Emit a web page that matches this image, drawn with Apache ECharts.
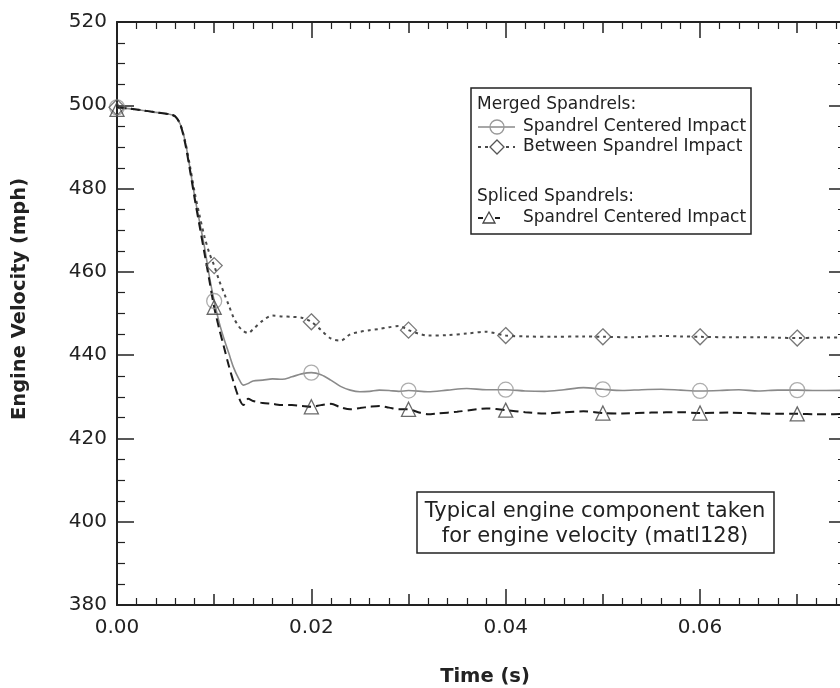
<!DOCTYPE html>
<html><head><meta charset="utf-8">
<script src="https://cdn.jsdelivr.net/npm/echarts@6/dist/echarts.min.js"></script>
<style>html,body{margin:0;padding:0;background:#fff}#c{width:840px;height:688px}</style>
</head><body><div id="c"></div>
<script>
// ---- data (time in s, engine velocity in mph) ----
var mergedCentered = [[0,499.5],[0.002,499],[0.004,498.3],[0.0055,497.8],[0.006,497.3],[0.0065,495.5],[0.007,491.5],[0.0075,485],[0.008,478],[0.0085,472],[0.009,466],[0.0095,459],[0.010,453],[0.0105,448],[0.011,444],[0.0115,440.5],[0.012,437],[0.0125,434.5],[0.013,432.8],[0.0135,433.2],[0.014,433.8],[0.015,434],[0.016,434.3],[0.017,434.2],[0.018,434.8],[0.019,435.5],[0.020,435.8],[0.021,435.3],[0.022,434],[0.023,432.5],[0.024,431.6],[0.025,431.2],[0.026,431.3],[0.027,431.6],[0.028,431.5],[0.029,431.3],[0.030,431.5],[0.032,431.2],[0.034,431.6],[0.036,432],[0.038,431.7],[0.040,431.7],[0.042,431.4],[0.044,431.3],[0.046,431.7],[0.048,432.2],[0.050,431.8],[0.052,431.5],[0.054,431.7],[0.056,431.8],[0.058,431.6],[0.060,431.4],[0.062,431.5],[0.064,431.7],[0.066,431.4],[0.068,431.6],[0.070,431.6],[0.072,431.5],[0.076,431.6]];
var mergedCenteredMarks = [[0,499.5],[0.01,453],[0.02,435.8],[0.03,431.5],[0.04,431.7],[0.05,431.8],[0.06,431.4],[0.07,431.6]];

var mergedBetween = [[0,499.5],[0.002,499],[0.004,498.3],[0.0055,497.8],[0.006,497.3],[0.0065,495.5],[0.007,491.5],[0.0075,485.5],[0.008,479],[0.0085,473.5],[0.009,468.5],[0.0095,464.5],[0.010,461.5],[0.0105,458],[0.011,455],[0.0115,452],[0.012,449],[0.0125,447],[0.013,445.8],[0.0135,445.3],[0.014,446.2],[0.015,448.3],[0.016,449.5],[0.017,449.3],[0.018,449.2],[0.019,449],[0.020,448],[0.021,446],[0.022,444],[0.023,443.5],[0.024,445],[0.025,445.6],[0.026,446],[0.027,446.3],[0.028,446.7],[0.029,447],[0.030,446],[0.031,445.2],[0.032,444.7],[0.034,444.8],[0.036,445.2],[0.038,445.6],[0.040,444.7],[0.042,444.5],[0.045,444.4],[0.048,444.5],[0.050,444.4],[0.053,444.3],[0.056,444.6],[0.058,444.5],[0.060,444.4],[0.063,444.3],[0.066,444.3],[0.068,444.2],[0.070,444.1],[0.072,444.2],[0.076,444.3]];
var mergedBetweenMarks = [[0,499.5],[0.01,461.5],[0.02,448],[0.03,446],[0.04,444.7],[0.05,444.4],[0.06,444.4],[0.07,444.1]];

var splicedCentered = [[0,499.5],[0.002,499],[0.004,498.3],[0.0055,497.8],[0.006,497.3],[0.0065,495.5],[0.007,491],[0.0075,484.5],[0.008,477.5],[0.0085,471],[0.009,464.5],[0.0095,458],[0.010,451.5],[0.0105,446.5],[0.011,442],[0.0115,437.5],[0.012,433.5],[0.0125,430],[0.013,428],[0.0135,429.5],[0.014,429],[0.015,428.5],[0.016,428.3],[0.017,428],[0.018,428],[0.019,427.8],[0.020,427.6],[0.021,428],[0.022,428.3],[0.023,427.5],[0.024,427],[0.025,427.3],[0.026,427.6],[0.027,427.8],[0.028,427.4],[0.029,427],[0.030,427],[0.031,426.3],[0.032,425.8],[0.033,426],[0.035,426.4],[0.037,427],[0.038,427.2],[0.040,426.8],[0.042,426.3],[0.044,426],[0.046,426.3],[0.048,426.5],[0.050,426.1],[0.052,426],[0.055,426.2],[0.058,426.3],[0.060,426.1],[0.063,426.2],[0.066,426],[0.068,425.9],[0.070,425.9],[0.072,425.8],[0.076,425.9]];
var splicedCenteredMarks = [[0,499],[0.01,451.5],[0.02,427.6],[0.03,427],[0.04,426.8],[0.05,426.1],[0.06,426.1],[0.07,425.9]];

var xLabelTicks = [0, 0.02, 0.04, 0.06];
var yTicks = [380, 400, 420, 440, 460, 480, 500, 520];

var FONT = 'DejaVu Sans';
var AXC = '#222';

var chart = echarts.init(document.getElementById('c'), null, {renderer: 'canvas'});

function xAx(pos, interval, tickLen, minor, labels, line) {
  return {
    type: 'value', gridIndex: 0, position: pos, min: 0, max: 0.08, interval: interval,
    axisLine: {show: line, onZero: false, lineStyle: {color: AXC, width: 2}},
    axisTick: {show: true, inside: true, length: tickLen, lineStyle: {color: AXC, width: 1.5}},
    minorTick: {show: minor, splitNumber: 5, length: 7, lineStyle: {color: AXC, width: 1.2}},
    axisLabel: {show: labels, fontFamily: FONT, fontSize: 20, color: '#222', margin: 13,
      formatter: function (v) { return xLabelTicks.indexOf(Math.round(v * 1000) / 1000) >= 0 ? v.toFixed(2) : ''; }},
    splitLine: {show: false}, minorSplitLine: {show: false}
  };
}
function yAx(grid, pos, labels) {
  return {
    type: 'value', gridIndex: grid, position: pos, min: yTicks[0], max: yTicks[yTicks.length - 1], interval: 20,
    axisLine: {show: true, onZero: false, lineStyle: {color: AXC, width: 2}},
    axisTick: {show: true, inside: true, length: 17, lineStyle: {color: AXC, width: 1.5}},
    minorTick: {show: true, splitNumber: 4, length: 8, lineStyle: {color: AXC, width: 1.2}},
    axisLabel: {show: labels, fontFamily: FONT, fontSize: 20, color: '#222', margin: 10},
    splitLine: {show: false}
  };
}

var lineStyles = [
  {color: '#8a8a8a', width: 1.6, type: 'solid'},
  {color: '#4a4a4a', width: 2, type: [3, 4]},
  {color: '#1a1a1a', width: 2, type: [9, 5]}
];

chart.setOption({
  backgroundColor: '#ffffff',
  animation: false,
  grid: [
    {left: 117, top: 22, width: 777.4, height: 583, containLabel: false, outerBoundsMode: 'none'},
    {left: 117, top: 22, width: 729, height: 583, containLabel: false, outerBoundsMode: 'none'}
  ],
  xAxis: [
    xAx('bottom', 0.02, 16, false, true, true),
    xAx('bottom', 0.01, 11, true, false, false),
    xAx('top', 0.02, 16, false, false, true),
    xAx('top', 0.01, 11, true, false, false),
    {type: 'value', gridIndex: 1, min: 0, max: 0.075, show: false}
  ],
  yAxis: [
    yAx(0, 'left', true),
    yAx(1, 'right', false)
  ],
  series: [
    {type: 'line', name: 'Merged Spandrel Centered Impact', data: mergedCentered, showSymbol: false, smooth: 0.3, lineStyle: lineStyles[0], z: 3},
    {type: 'line', name: 'Between Spandrel Impact', data: mergedBetween, showSymbol: false, smooth: 0.3, lineStyle: lineStyles[1], z: 3},
    {type: 'line', name: 'Spliced Spandrel Centered Impact', data: splicedCentered, showSymbol: false, smooth: 0.3, lineStyle: lineStyles[2], z: 3},
    {type: 'scatter', data: mergedCenteredMarks, symbol: 'circle', symbolSize: 15,
      itemStyle: {color: 'rgba(0,0,0,0)', borderColor: '#999', borderWidth: 1.3}, z: 4},
    {type: 'scatter', data: mergedBetweenMarks, symbol: 'diamond', symbolSize: [16, 16],
      itemStyle: {color: 'rgba(0,0,0,0)', borderColor: '#555', borderWidth: 1.3}, z: 4},
    {type: 'scatter', data: splicedCenteredMarks, symbol: 'triangle', symbolSize: [14, 14],
      itemStyle: {color: 'rgba(0,0,0,0)', borderColor: '#444', borderWidth: 1.3}, z: 4}
  ],
  graphic: [
    // axis titles
    {type: 'text', x: 20, y: 299, rotation: Math.PI / 2, style: {text: 'Engine Velocity (mph)', fontFamily: FONT, fontWeight: 'bold', fontSize: 19.5, fill: '#222', align: 'center', verticalAlign: 'middle'}},
    {type: 'text', x: 485, y: 677, style: {text: 'Time (s)', fontFamily: FONT, fontWeight: 'bold', fontSize: 19.5, fill: '#222', align: 'center', verticalAlign: 'middle'}},
    // legend box
    {type: 'rect', shape: {x: 471, y: 88, width: 280, height: 146}, style: {fill: '#fff', stroke: '#222', lineWidth: 1.5}, z: 10},
    {type: 'text', x: 477, y: 105, style: {text: 'Merged Spandrels:', fontFamily: FONT, fontSize: 17, fill: '#222', verticalAlign: 'middle'}, z: 11},
    {type: 'line', shape: {x1: 478, y1: 127, x2: 515, y2: 127}, style: {stroke: '#8a8a8a', lineWidth: 1.6}, z: 11},
    {type: 'circle', shape: {cx: 497, cy: 127, r: 7}, style: {fill: 'rgba(0,0,0,0)', stroke: '#999', lineWidth: 1.3}, z: 11},
    {type: 'text', x: 523, y: 127, style: {text: 'Spandrel Centered Impact', fontFamily: FONT, fontSize: 17, fill: '#222', verticalAlign: 'middle'}, z: 11},
    {type: 'line', shape: {x1: 478, y1: 147, x2: 515, y2: 147}, style: {stroke: '#4a4a4a', lineWidth: 2, lineDash: [3, 4]}, z: 11},
    {type: 'polygon', shape: {points: [[497, 140], [504, 147], [497, 154], [490, 147]]}, style: {fill: '#fff', stroke: '#555', lineWidth: 1.3}, z: 12},
    {type: 'text', x: 523, y: 147, style: {text: 'Between Spandrel Impact', fontFamily: FONT, fontSize: 17, fill: '#222', verticalAlign: 'middle'}, z: 11},
    {type: 'text', x: 477, y: 197, style: {text: 'Spliced Spandrels:', fontFamily: FONT, fontSize: 17, fill: '#222', verticalAlign: 'middle'}, z: 11},
    {type: 'line', shape: {x1: 478, y1: 218, x2: 483, y2: 218}, style: {stroke: '#1a1a1a', lineWidth: 2}, z: 11},
    {type: 'line', shape: {x1: 495, y1: 218, x2: 500, y2: 218}, style: {stroke: '#1a1a1a', lineWidth: 2}, z: 11},
    {type: 'polygon', shape: {points: [[489, 212], [495, 223], [483, 223]]}, style: {fill: 'rgba(0,0,0,0)', stroke: '#444', lineWidth: 1.3}, z: 12},
    {type: 'text', x: 523, y: 218, style: {text: 'Spandrel Centered Impact', fontFamily: FONT, fontSize: 17, fill: '#222', verticalAlign: 'middle'}, z: 11},
    // annotation box
    {type: 'rect', shape: {x: 417, y: 492, width: 357, height: 61}, style: {fill: '#fff', stroke: '#222', lineWidth: 1.5}, z: 10},
    {type: 'text', x: 595, y: 512, style: {text: 'Typical engine component taken', fontFamily: FONT, fontSize: 21, fill: '#222', align: 'center', verticalAlign: 'middle'}, z: 11},
    {type: 'text', x: 595, y: 537, style: {text: 'for engine velocity (matl128)', fontFamily: FONT, fontSize: 21, fill: '#222', align: 'center', verticalAlign: 'middle'}, z: 11}
  ]
});
</script>
</body></html>
